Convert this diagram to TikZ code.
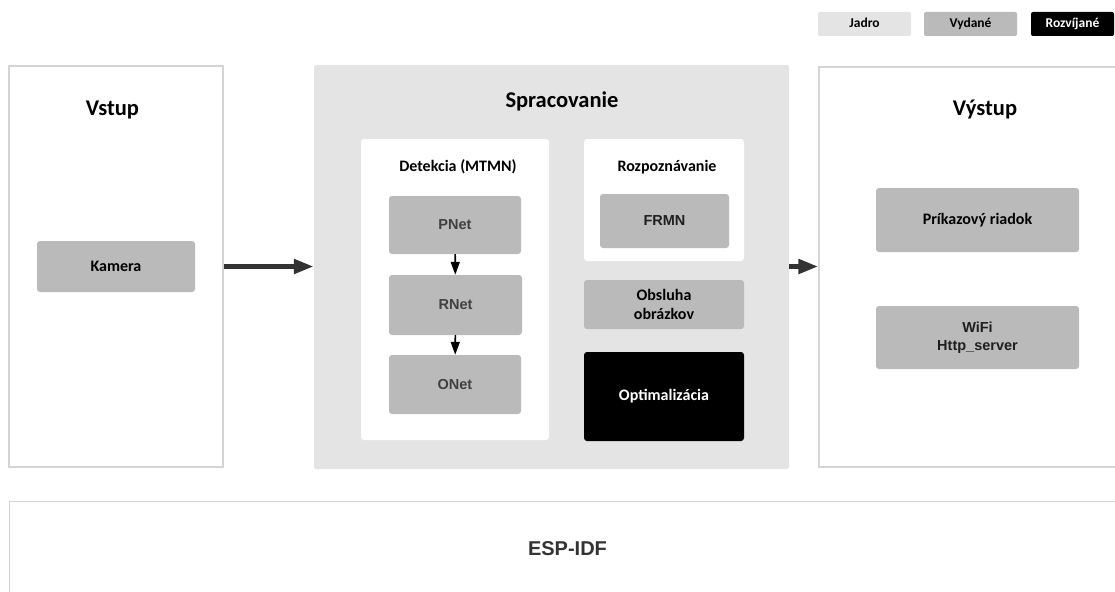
\documentclass[tikz,border=0pt]{standalone}
\usepackage{fontspec}
\setmainfont{Carlito}
\newfontfamily\arial{Liberation Sans}
\usetikzlibrary{arrows.meta}

\definecolor{core}{HTML}{E4E4E4}
\definecolor{released}{HTML}{BABABA}
\definecolor{frame}{HTML}{D4D4D4}
\definecolor{ink}{HTML}{333333}
\definecolor{netink}{HTML}{404040}

\tikzset{
  outerbox/.style={draw=frame, line width=1.3pt, fill=white},
  corebox/.style={fill=core, rounded corners=2pt},
  panel/.style={fill=white, rounded corners=3pt},
  relbox/.style={fill=released, rounded corners=3pt, font=\bfseries\fontsize{16}{19}\selectfont, align=center},
  netbox/.style={fill=released, rounded corners=3pt, text=netink, font=\arial\bfseries\fontsize{14.5}{17}\selectfont},
  devbox/.style={fill=black, rounded corners=3pt, text=white, font=\bfseries\fontsize{16}{19}\selectfont},
  legbox/.style={rounded corners=2pt, font=\bfseries\fontsize{13.5}{16}\selectfont, minimum width=93pt, minimum height=24pt, inner sep=0pt, text height=9.5pt, text depth=2.5pt},
  title/.style={font=\bfseries\fontsize{22.5}{26}\selectfont, text height=16pt, text depth=5pt},
  subtitle/.style={font=\bfseries\fontsize{16}{19}\selectfont},
  bigarrow/.style={draw=ink, line width=5pt, -{Triangle[length=20pt, width=14pt]}},
  smallarrow/.style={draw=black, line width=1.6pt, -{Triangle[length=13pt, width=9pt]}},
}

\begin{document}
\begin{tikzpicture}[x=1pt, y=-1pt, inner sep=0pt]
\useasboundingbox (0,0) rectangle (1115,591);

% legend
\node[legbox, fill=core] (legcore) at (864.5,24) {Jadro};
\node[legbox, fill=released] (legrel) at (970.5,24) {Vydané};
\node[legbox, fill=black, text=white, minimum width=83pt] (legdev) at (1072.5,24) {Rozvíjané};

% three main columns
\node[outerbox, minimum width=214pt, minimum height=401pt] (in) at (116,266.5) {};
\node[title] (intitle) at (112.5,109.5) {Vstup};
\node[relbox, minimum width=158pt, minimum height=51pt] (cam) at (116,266.5) {Kamera};

\node[corebox, minimum width=475pt, minimum height=404pt] (proc) at (551.5,267) {};
\node[title] (proctitle) at (562,102.5) {Spracovanie};

\node[outerbox, minimum width=310pt, minimum height=400pt] (out) at (974,267) {};
\node[title] (outtitle) at (985,109.5) {Výstup};
\node[relbox, minimum width=203pt, minimum height=64pt] (cli) at (977.5,220) {Príkazový riadok};
\node[relbox, minimum width=203pt, minimum height=63pt, font=\arial\bfseries\fontsize{14.5}{18.5}\selectfont, text=black!88] (wifi) at (977.5,337.5) {WiFi\\Http\_server};

% detection pipeline
\node[panel, minimum width=188pt, minimum height=301pt] (det) at (455,289.5) {};
\node[subtitle] (dettitle) at (458,167) {Detekcia (MTMN)};
\node[netbox, minimum width=132pt, minimum height=58pt] (pnet) at (455,225) {PNet};
\node[netbox, minimum width=133pt, minimum height=60pt] (rnet) at (455.5,305) {RNet};
\node[netbox, minimum width=132pt, minimum height=59pt] (onet) at (455,384.5) {ONet};
\draw[smallarrow] (pnet) -- (rnet);
\draw[smallarrow] (rnet) -- (onet);

% recognition and helpers
\node[panel, minimum width=160pt, minimum height=122pt] (rec) at (664,200) {};
\node[subtitle] (rectitle) at (667,167) {Rozpoznávanie};
\node[netbox, minimum width=129pt, minimum height=54pt, text=black!88] (frmn) at (664.5,221) {FRMN};
\node[relbox, minimum width=160pt, minimum height=49pt, font=\bfseries\fontsize{16}{19}\selectfont] (img) at (664,304.5) {Obsluha\\obrázkov};
\node[devbox, minimum width=160pt, minimum height=89pt] (opt) at (664,396.5) {Optimalizácia};

% data flow
\draw[bigarrow] (in.east |- cam) -- (proc.west |- cam);
\draw[bigarrow] (proc.east |- cam) -- (out.west |- cam);

% platform layer
\node[outerbox, line width=1pt, minimum width=1120pt, minimum height=110pt] (idf) at (569,556) {};
\node[font=\arial\bfseries\fontsize{20}{23}\selectfont, text=ink] (idftitle) at (567.5,549) {ESP-IDF};
\end{tikzpicture}
\end{document}
